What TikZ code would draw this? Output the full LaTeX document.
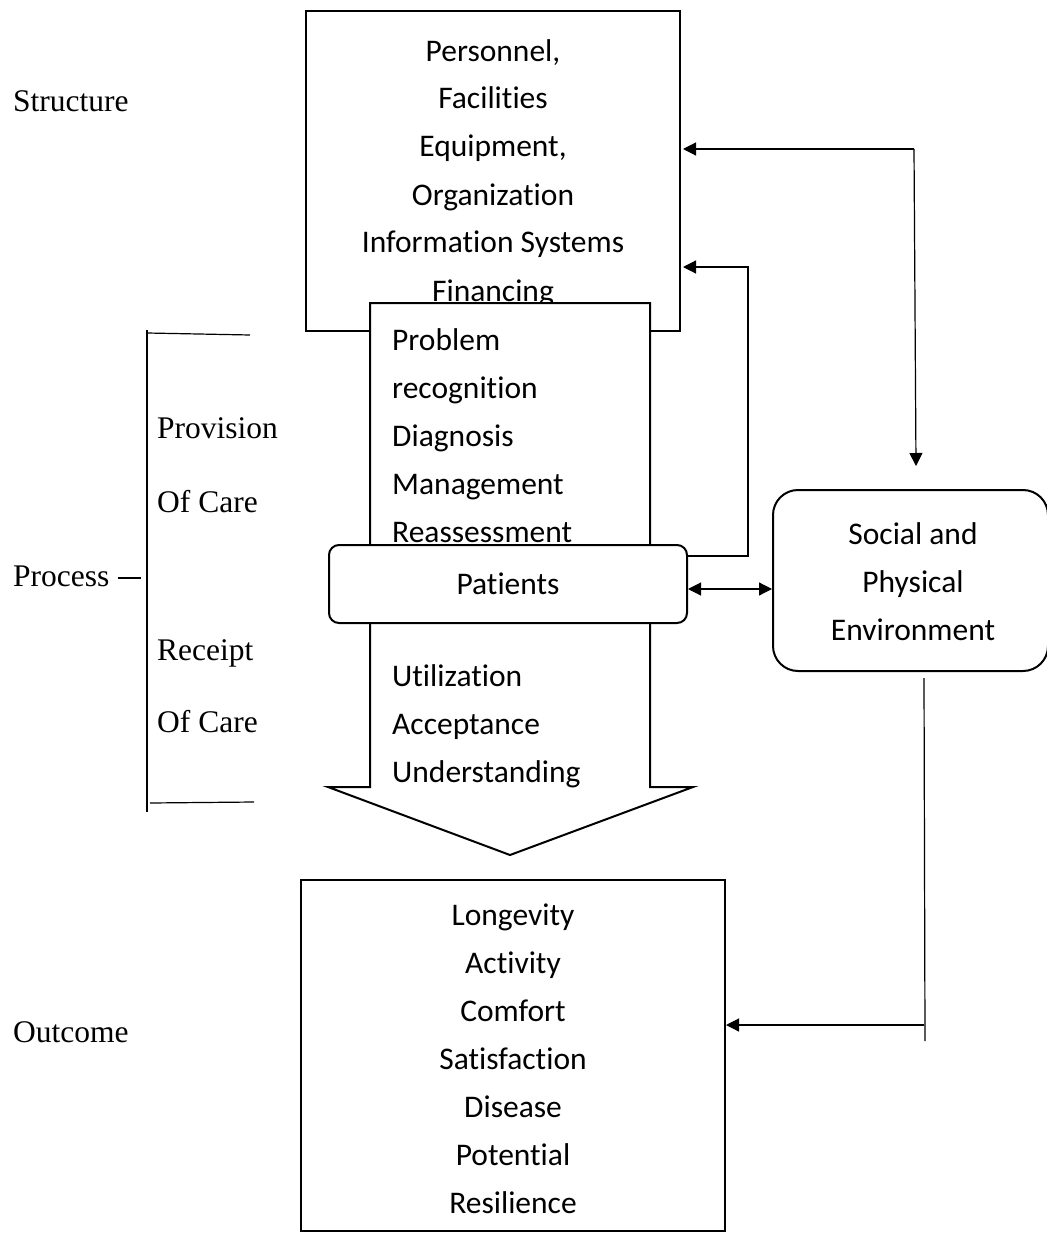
\documentclass[tikz,border=0pt]{standalone}
\usepackage{fontspec}
\setmainfont{Carlito}[Ligatures=NoCommon]
\newfontfamily\timesfont{Liberation Serif}
\usetikzlibrary{arrows.meta,positioning}

\begin{document}
\begin{tikzpicture}[x=1pt,y=-1pt,>={Triangle[length=13pt,width=13pt]},
            box/.style={draw,line width=2pt,inner sep=0pt},
            boxtxt/.style={inner sep=0pt,anchor=base,align=center,font=\fontsize{31.5}{48}\selectfont},
            listtxt/.style={inner sep=0pt,anchor=base west,align=left,font=\fontsize{31.5}{48}\selectfont},
            side/.style={inner sep=0pt,anchor=base west,font=\timesfont\fontsize{31.5}{38}\selectfont},
            link/.style={->,line width=1.2pt},
            thin/.style={line width=1.2pt}]

      \useasboundingbox (0,0) rectangle (1046,1233);

      % structure
      \node[box,minimum width=374pt,minimum height=320pt] (struct) at (493,171) {};
      \node[boxtxt] (structtxt) at (493,301) {Personnel,\\Facilities\\Equipment,\\Organization\\Information Systems\\Financing};

      % process arrow
      \draw[fill=white,line width=2pt,line join=miter] (370,303) -- (650,303) -- (650,787) -- (693,787)
            -- (510,855) -- (328,787) -- (370,787) -- cycle;
      \node[listtxt] (provtxt) at (392,542) {Problem\\recognition\\Diagnosis\\Management\\Reassessment};
      \node[listtxt] (recvtxt) at (392,782) {Utilization\\Acceptance\\Understanding};

      \node[box,rounded corners=10pt,fill=white,minimum width=358pt,minimum height=78pt,
            font=\fontsize{31.5}{48}\selectfont] (patients) at (508,584) {Patients};

      % environment
      \node[box,rounded corners=25pt,minimum width=275pt,minimum height=181pt] (social) at (910.5,580.5) {};
      \node[boxtxt] (socialtxt) at (913,640) {Social and\\Physical\\Environment};

      % outcome
      \node[box,minimum width=424pt,minimum height=351pt] (outcome) at (513,1055.5) {};
      \node[boxtxt] (outcometxt) at (513,1213) {Longevity\\Activity\\Comfort\\Satisfaction\\Disease\\Potential\\Resilience};

      % side labels
      \node[side] (structure) at (13,112) {Structure};
      \node[side] (provision) at (157,438) {Provision};
      \node[side] (provcare) at (157,512) {Of Care};
      \node[side] (process) at (13,586) {Process};
      \node[side] (receipt) at (157,660) {Receipt};
      \node[side] (recvcare) at (157,732) {Of Care};
      \node[side] (outcomelbl) at (13,1042) {Outcome};

      \coordinate (brtop) at (147,330);
      \coordinate (brbot) at (147,812);
      \draw[thin] (brtop) -- (brbot);
      \draw[thin] (147,333) -- (250,335);
      \draw[thin] (150,803) -- (254,802);
      \draw[thin] ([xshift=8pt,yshift=8pt]process.base east) -- (141,578);

      % connectors
      \coordinate (sp) at (914,149);
      \coordinate (spend) at (916,466);
      \draw[link,shorten >=2pt] (sp) -- (struct.east |- sp);
      \draw[link] (sp) -- (spend);

      \coordinate (fb) at (748,267);
      \draw[link,shorten >=2pt] ([yshift=-12pt]patients.north east) -| (fb) -- (struct.east |- fb);

      \draw[link,<->] ([yshift=-5pt]patients.east) -- ([yshift=-5pt]patients.east -| social.west);

      \coordinate (oj) at (924,1025);
      \coordinate (ob) at (925,1041);
      \draw[thin] ([yshift=-6pt]social.south -| oj) -- (ob);
      \draw[link] (oj) -- (outcome.east |- oj);

\end{tikzpicture}
\end{document}
